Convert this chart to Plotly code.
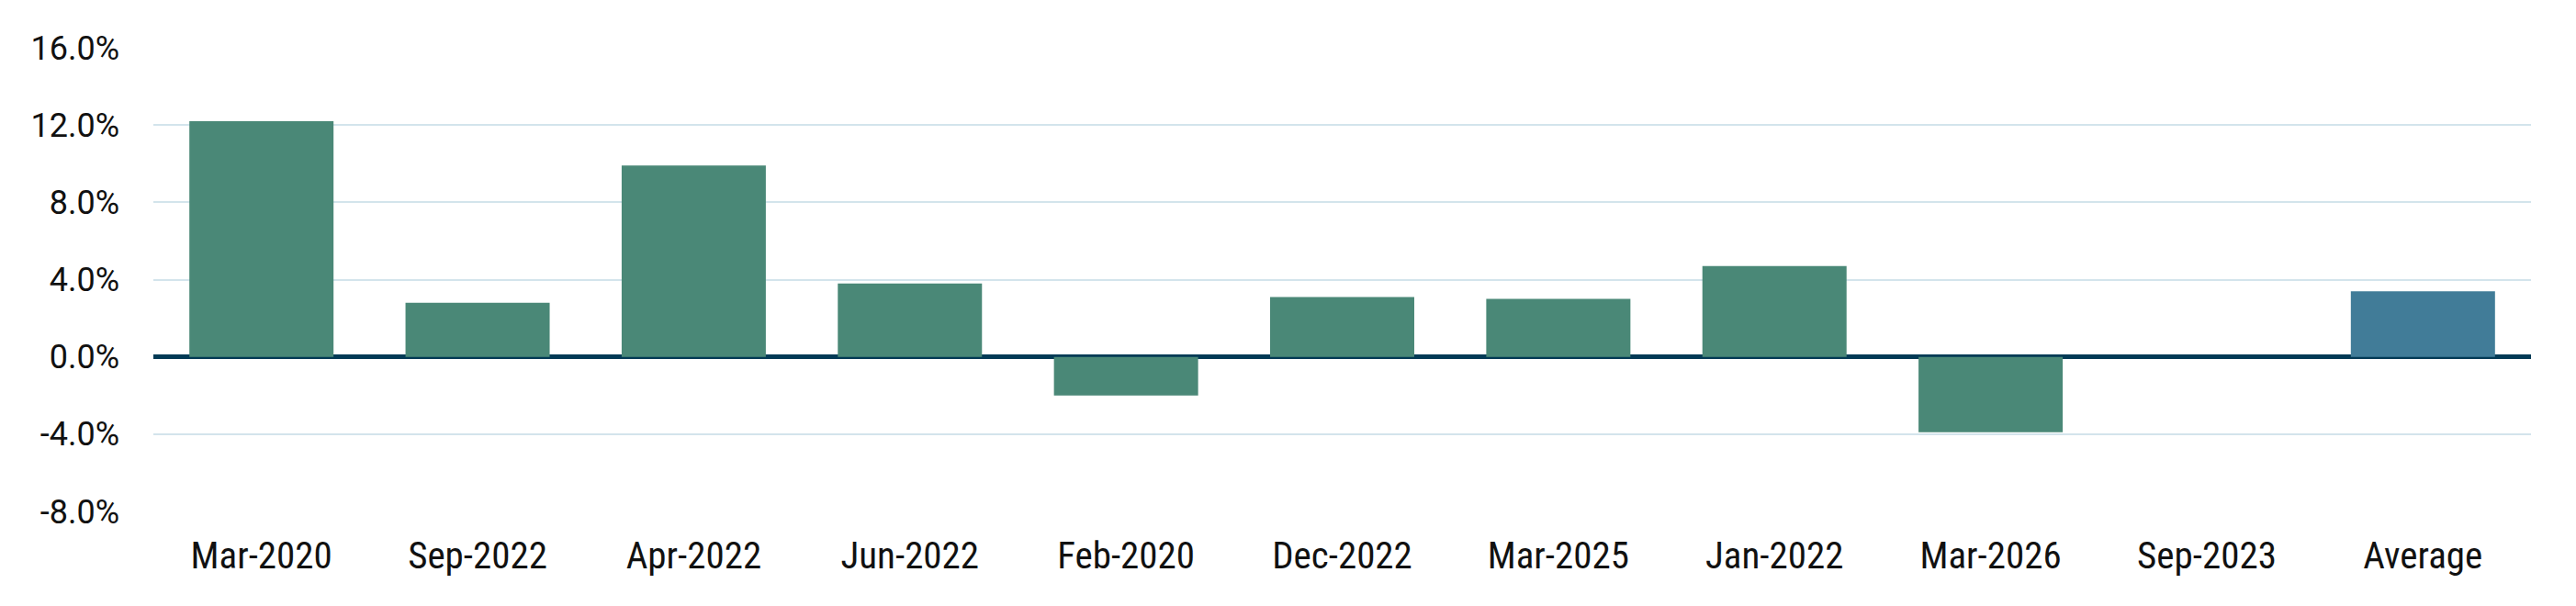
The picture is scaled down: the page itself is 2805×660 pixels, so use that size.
import plotly.graph_objects as go

categories = ["Mar-2020", "Sep-2022", "Apr-2022", "Jun-2022", "Feb-2020",
              "Dec-2022", "Mar-2025", "Jan-2022", "Mar-2026", "Sep-2023", "Average"]
values = [12.2, 2.8, 9.9, 3.8, -2.0, 3.1, 3.0, 4.7, -3.9, 0.0, 3.4]
tick_vals = [-8, -4, 0, 4, 8, 12, 16]
tick_labels = ["-8.0%", "-4.0%", "0.0%", "4.0%", "8.0%", "12.0%", "16.0%"]

GREEN = "#4A8877"
BLUE = "#417C98"
colors = [BLUE if c == "Average" else GREEN for c in categories]

fig = go.Figure(go.Bar(x=categories, y=values, marker=dict(color=colors, line=dict(width=0)),
                       hoverinfo="skip"))

fig.update_layout(
    width=2805, height=660,
    margin=dict(l=159, r=57, t=44, b=111),
    paper_bgcolor="white", plot_bgcolor="white",
    bargap=0.333,
    showlegend=False,
    font=dict(family="Roboto", color="#111111"),
)
fig.update_xaxes(
    showgrid=False, showline=False, ticks="",
    tickfont=dict(family="Roboto Condensed, Liberation Sans Narrow, Roboto", size=41, color="#111111"),
    ticklabelstandoff=20,
)
fig.update_yaxes(
    range=[-8, 16], tickvals=tick_vals, ticktext=tick_labels,
    showgrid=True, gridcolor="#D3E4EC", gridwidth=2,
    zeroline=True, zerolinecolor="#023A55", zerolinewidth=5,
    showline=False, ticks="",
    tickfont=dict(family="Roboto", size=36, color="#111111"),
    ticklabelstandoff=36,
)

fig.write_html("out.html")
